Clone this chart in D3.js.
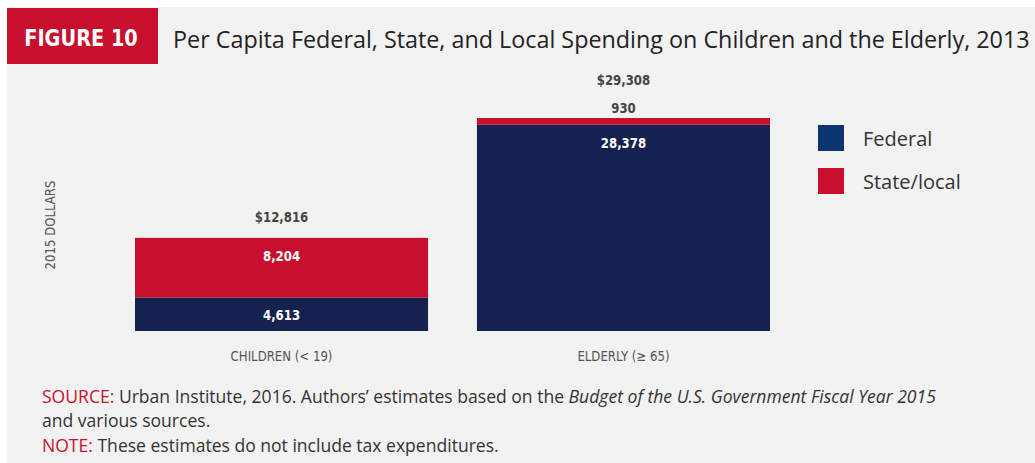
<!DOCTYPE html>
<html>
<head>
<meta charset="utf-8">
<script src="https://cdn.jsdelivr.net/npm/d3@7"></script>
<style>
  html, body { margin: 0; padding: 0; background: #fff; }
  svg { display: block; }
  .narrow { font-family: "DejaVu Sans", sans-serif; }
  .main { font-family: "Open Sans", Lato, sans-serif; }
</style>
</head>
<body>
<svg id="chart" width="1035" height="463"></svg>
<script>
// data
const categories = ['CHILDREN (< 19)', 'ELDERLY (\u2265 65)'];
const seriesNames = ['Federal', 'State/local'];
const federal = [4613, 28378];
const stateLocal = [8204, 930];
const totals = [12816, 29308];

const colors = { bar: ['#15214e', '#c8102e'], legend: ['#0b3470', '#c8102e'] };

const svg = d3.select('#chart');
const W = 1035, H = 463;
const SX = 0.84; // compression horizontale (police étroite)

// texte étroit : on compresse en x
function narrowText(parent, x, y, txt, size, fill, weight) {
  return parent.append('text').attr('class', 'narrow')
    .attr('transform', `translate(${x},${y}) scale(${SX},1)`)
    .attr('dy', '0.35em')
    .attr('text-anchor', 'middle')
    .attr('font-size', size).attr('font-weight', weight || 'normal')
    .attr('fill', fill)
    .text(txt);
}

// fond gris
svg.append('rect').attr('x', 7).attr('y', 7).attr('width', W - 7).attr('height', H - 7).attr('fill', '#f2f2f2');

// badge "FIGURE 10"
svg.append('rect').attr('x', 7).attr('y', 8).attr('width', 151).attr('height', 56).attr('fill', '#c8102e');
narrowText(svg, 81, 38, 'FIGURE 10', 23, '#fff', 'bold');

const title = svg.append('text').attr('class', 'main')
  .attr('x', 173).attr('y', 40).attr('dy', '0.35em')
  .attr('fill', '#222').attr('font-size', 21)
  .text('Per Capita Federal, State, and Local Spending on Children and the Elderly, 2013');

// scales
const x = d3.scaleBand().domain(categories).range([135, 770]).paddingInner(0.143).paddingOuter(0);
const y = d3.scaleLinear().domain([0, d3.max(totals)]).range([331, 118]);

const stacked = d3.stack().keys([0, 1])(categories.map((c, i) => ({ cat: c, 0: federal[i], 1: stateLocal[i] })));

const g = svg.append('g');
stacked.forEach((layer, k) => {
  g.selectAll(null).data(layer).enter().append('rect')
    .attr('x', d => x(d.data.cat))
    .attr('y', d => y(d[1]))
    .attr('width', x.bandwidth())
    .attr('height', d => y(d[0]) - y(d[1]))
    .attr('fill', colors.bar[k]);
});

// labels des segments
stacked.forEach((layer, k) => {
  layer.forEach((d, i) => {
    const v = d[1] - d[0];
    const h = y(d[0]) - y(d[1]);
    const small = h < 30;
    const cx = x(d.data.cat) + x.bandwidth() / 2;
    narrowText(svg, cx, small ? y(d[1]) - 10 : y(d[1]) + 18, d3.format(',')(v), 14, small ? '#444' : '#fff', 'bold');
  });
});

// totaux
categories.forEach((c, i) => {
  const hasSmall = (y(0) - y(stateLocal[i])) < 30;
  narrowText(svg, x(c) + x.bandwidth() / 2, y(totals[i]) - 21 - (hasSmall ? 17 : 0),
    '$' + d3.format(',')(totals[i]), 14, '#444', 'bold');
});

// axe x (libellés seulement)
const xAxis = svg.append('g').attr('transform', 'translate(0,331)')
  .call(d3.axisBottom(x).tickSize(0).tickPadding(0));
xAxis.select('.domain').remove();
xAxis.selectAll('.tick text')
  .attr('class', 'narrow').attr('font-family', null)
  .attr('y', 0).attr('dy', '0.35em')
  .attr('transform', `translate(0,25) scale(${SX},1)`)
  .attr('font-size', 14).attr('fill', '#555');

// libellé y
svg.append('text').attr('class', 'narrow')
  .attr('transform', `translate(50,225) rotate(-90) scale(${SX},1)`)
  .attr('dy', '0.35em')
  .attr('text-anchor', 'middle').attr('font-size', 14).attr('fill', '#555')
  .text('2015 DOLLARS');

// légende
seriesNames.forEach((s, i) => {
  svg.append('rect').attr('x', 818).attr('y', 125 + i * 43).attr('width', 26).attr('height', 26).attr('fill', colors.legend[i]);
  svg.append('text').attr('class', 'main')
    .attr('x', 863).attr('y', 139 + i * 43).attr('dy', '0.35em')
    .attr('font-size', 20).attr('fill', '#333')
    .text(s);
});

// notes
const notes = svg.append('g').attr('class', 'main').attr('font-size', 15).attr('fill', '#333');
const l1 = notes.append('text').attr('x', 42).attr('y', 397).attr('dy', '0.35em');
l1.append('tspan').attr('fill', '#c8102e').text('SOURCE: ');
l1.append('tspan').text('Urban Institute, 2016. Authors\u2019 estimates based on the ');
l1.append('tspan').attr('font-style', 'italic').text('Budget of the U.S. Government Fiscal Year 2015');
notes.append('text').attr('x', 42).attr('y', 421).attr('dy', '0.35em').text('and various sources.');
const l3 = notes.append('text').attr('x', 42).attr('y', 446).attr('dy', '0.35em');
l3.append('tspan').attr('fill', '#c8102e').text('NOTE: ');
l3.append('tspan').text('These estimates do not include tax expenditures.');

// ajuster la largeur du titre et de la source
const fit = (sel, target) => {
  const w = sel.node().getComputedTextLength();
  const fs = +sel.attr('font-size') || 15;
  sel.attr('font-size', fs * target / w);
};
fit(title, 857);
const w1 = l1.node().getComputedTextLength();
notes.attr('font-size', 15 * 895 / w1);
</script>
</body>
</html>
